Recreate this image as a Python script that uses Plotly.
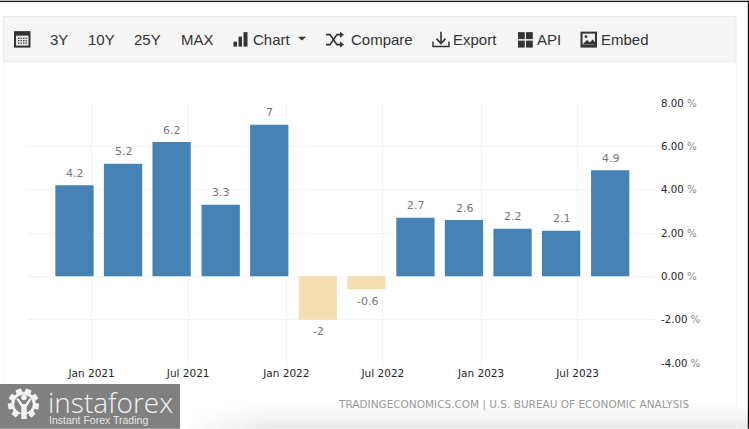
import math
import plotly.graph_objects as go

# ---- data ----
quarter_dates = ["2020-11-30", "2021-03-01", "2021-05-31", "2021-08-31", "2021-11-30", "2022-03-01",
                 "2022-05-31", "2022-08-31", "2022-11-30", "2023-03-01", "2023-05-31", "2023-08-31"]
gdp_growth = [4.2, 5.2, 6.2, 3.3, 7, -2, -0.6, 2.7, 2.6, 2.2, 2.1, 4.9]
value_labels = ["4.2", "5.2", "6.2", "3.3", "7", "-2", "-0.6", "2.7", "2.6", "2.2", "2.1", "4.9"]
x_tick_dates = ["2021-01-01", "2021-07-01", "2022-01-01", "2022-07-01", "2023-01-01", "2023-07-01"]
x_tick_labels = ["Jan 2021", "Jul 2021", "Jan 2022", "Jul 2022", "Jan 2023", "Jul 2023"]
y_tick_values = [8, 6, 4, 2, 0, -2, -4]
y_tick_labels = ["8.00", "6.00", "4.00", "2.00", "0.00", "-2.00", "-4.00"]
toolbar_items = [("3Y", 47.5), ("10Y", 85.5), ("25Y", 131.5), ("MAX", 178.5), ("Chart", 250.5),
                 ("Compare", 348.5), ("Export", 450.5), ("API", 534.5), ("Embed", 598.5)]

W, H = 749, 429
L, R, T, B = 27, 655, 102.5, 363
POS, NEG, GRID = "#4682B4", "#F5DEB3", "#F3F3F3"
DARK = "#333333"


def px(x):
    return (x - L) / (R - L)


def py(y):
    return (B - y) / (B - T)


def rect(x0, y0, x1, y1, fill, line=None, width=0):
    return dict(type="rect", xref="paper", yref="paper", x0=px(x0), x1=px(x1), y0=py(y0), y1=py(y1),
                fillcolor=fill, line=dict(color=line or fill, width=width), layer="below")


def path(points, fill=None, line=None, width=0, close=True):
    d = "M " + " L ".join(f"{px(a):.5f},{py(b):.5f}" for a, b in points) + (" Z" if close else "")
    return dict(type="path", xref="paper", yref="paper", path=d, fillcolor=fill or "rgba(0,0,0,0)",
                line=dict(color=line or "rgba(0,0,0,0)", width=width), layer="below")


def circle(cx, cy, r, fill):
    return dict(type="circle", xref="paper", yref="paper", x0=px(cx - r), x1=px(cx + r), y0=py(cy - r), y1=py(cy + r),
                fillcolor=fill, line=dict(width=0), layer="below")


shapes = []
# bottom fade
for i in range(13):
    t = (i + 1) / 13
    y0 = 403 + i * 2
    for j in range(10):
        f = (j + 1) / 10
        g = int(round(255 - 21 * t ** 1.3 * f))
        shapes.append(rect(190 + j * 8, y0, 198 + j * 8, y0 + 2, f"rgb({g},{g},{g})"))
    g = int(round(255 - 21 * t ** 1.3))
    shapes.append(rect(270, y0, 749, y0 + 2, f"rgb({g},{g},{g})"))
# frame
shapes.append(rect(0, 0, 749, 1.2, "#111111"))
shapes.append(rect(747.8, 0, 749, 429, "#111111"))
shapes.append(rect(3, 61, 3.8, 429, "#F5F5F5"))
shapes.append(rect(736, 61, 736.8, 429, "#F5F5F5"))
# toolbar
shapes.append(rect(3.3, 15.8, 736, 61, "#F5F5F5", "#E9E9E9", 1))
# calendar icon
shapes.append(rect(14, 30.5, 30.5, 47, DARK))
shapes.append(rect(16, 35, 28.5, 45, "#E4E4E4"))
for r_ in range(3):
    for c_ in range(4):
        shapes.append(rect(18 + c_ * 2.5, 37 + r_ * 2.4, 19.4 + c_ * 2.5, 38.3 + r_ * 2.4, "#444444"))
# bar chart icon
shapes.append(rect(233.5, 41, 237, 46, DARK))
shapes.append(rect(238.5, 36, 242, 46, DARK))
shapes.append(rect(243.5, 31.5, 247.5, 46, DARK))
shapes.append(path([(298, 36), (306, 36), (302, 40)], DARK))
# shuffle icon
shapes.append(path([(326, 34), (330, 34), (337, 44), (341, 44)], None, DARK, 1.6, close=False))
shapes.append(path([(326, 44), (330, 44), (337, 34), (341, 34)], None, DARK, 1.6, close=False))
shapes.append(path([(340, 31), (344, 34), (340, 37)], DARK))
shapes.append(path([(340, 41), (344, 44), (340, 47)], DARK))
# export icon
shapes.append(path([(433, 41), (433, 46), (449, 46), (449, 41)], None, DARK, 1.5, close=False))
shapes.append(path([(441, 31), (441, 42)], None, DARK, 1.6, close=False))
shapes.append(path([(436.5, 38), (441, 43), (445.5, 38)], None, DARK, 1.6, close=False))
# API icon
for ax, ay in [(518, 31.5), (526, 31.5), (518, 40), (526, 40)]:
    shapes.append(rect(ax, ay, ax + 6.8, ay + 7, DARK))
# embed icon
shapes.append(rect(580.5, 31, 597, 47, DARK))
shapes.append(rect(582.5, 33, 595, 44, "#EFEFEF"))
shapes.append(path([(582.5, 44), (587, 39.5), (590, 42), (592.5, 39), (595, 41.5), (595, 44)], DARK))
shapes.append(circle(586, 36, 1.4, DARK))
# logo plate
LOGO = "#808080"
shapes.append(rect(0, 384, 180, 429, LOGO))
LOGO_FG = "#F2F2F2"
gear = []
for k in range(9):
    a = 2 * math.pi * k / 9 - math.pi / 2 + 0.35
    for da, rad in [(-0.26, 12.2), (-0.18, 15.8), (0.18, 15.8), (0.26, 12.2)]:
        gear.append((23.5 + rad * math.cos(a + da), 404 + rad * math.sin(a + da)))
shapes.append(path(gear, LOGO_FG))
shapes.append(circle(23.5, 404, 9.3, LOGO))
shapes.append(rect(18.5, 414, 29, 421, LOGO))
shapes.append(circle(24, 397.5, 2.8, LOGO_FG))
shapes.append(path([(16, 398.5), (18.5, 398.5), (22.5, 404), (25.5, 404), (29.5, 398.5), (32, 398.5),
                    (26.7, 407), (26.7, 419), (21.3, 419), (21.3, 407)], LOGO_FG))

# annotations
annotations = []
for label, x0 in toolbar_items:
    annotations.append(dict(text=label, xref="paper", yref="paper", x=px(x0), y=py(38.6), xanchor="left", yanchor="middle",
                            showarrow=False, font=dict(family="Liberation Sans", size=15, color=DARK)))
annotations.append(dict(text="TRADINGECONOMICS.COM | U.S. BUREAU OF ECONOMIC ANALYSIS", xref="paper", yref="paper",
                        x=px(691), y=py(404.5), xanchor="right", yanchor="middle", showarrow=False,
                        font=dict(family="DejaVu Sans", size=10.5, color="#999999")))
annotations.append(dict(text="instaforex", xref="paper", yref="paper", x=px(45.5), y=py(402), xanchor="left", yanchor="middle",
                        showarrow=False, font=dict(family="Open Sans", size=28, weight=300, color=LOGO_FG)))
annotations.append(dict(text="Instant Forex Trading", xref="paper", yref="paper", x=px(47), y=py(420.5), xanchor="left",
                        yanchor="middle", showarrow=False, font=dict(family="Liberation Sans", size=10.5, color="#E6E6E6")))
# value labels, tied to the data points
for d, v, lab in zip(quarter_dates, gdp_growth, value_labels):
    annotations.append(dict(text=lab, xref="x", yref="y", x=d, y=v, yshift=12 if v >= 0 else -12, xshift=0.7,
                            xanchor="center", yanchor="middle", showarrow=False,
                            font=dict(family="DejaVu Sans", size=11, color="#777777")))

fig = go.Figure(go.Bar(
    x=quarter_dates, y=gdp_growth,
    width=6.2e9,
    marker=dict(color=[POS if v >= 0 else NEG for v in gdp_growth], line=dict(width=0)),
    cliponaxis=False,
    hoverinfo="skip",
))
fig.update_layout(
    width=W, height=H, autosize=False, showlegend=False,
    margin=dict(l=L, r=W - R, t=T, b=H - B, pad=0),
    paper_bgcolor="white", plot_bgcolor="white",
    shapes=shapes, annotations=annotations,
    font=dict(family="DejaVu Sans"),
)
fig.update_xaxes(
    type="date", range=["2020-09-02", "2023-11-23"],
    tickmode="array", tickvals=x_tick_dates, ticktext=x_tick_labels,
    showgrid=True, gridcolor=GRID, gridwidth=1, zeroline=False, showline=False,
    ticks="outside", ticklen=3, tickcolor=GRID, ticklabelstandoff=-3,
    tickfont=dict(family="DejaVu Sans", size=10.5, color="#262626"),
)
fig.update_yaxes(
    range=[-4, 8], side="right",
    tickmode="array", tickvals=y_tick_values,
    ticktext=[f'{t} <span style="color:#888888">%</span>' for t in y_tick_labels],
    showgrid=True, gridcolor=GRID, gridwidth=1, zeroline=True, zerolinecolor=GRID, zerolinewidth=1, showline=False,
    ticks="", ticklabelstandoff=5, tickfont=dict(family="DejaVu Sans", size=10.2, color="#262626"),
)
fig.write_html("out.html", post_script="document.body.style.margin='0';document.body.style.overflow='hidden';",
               config={"displayModeBar": False})
